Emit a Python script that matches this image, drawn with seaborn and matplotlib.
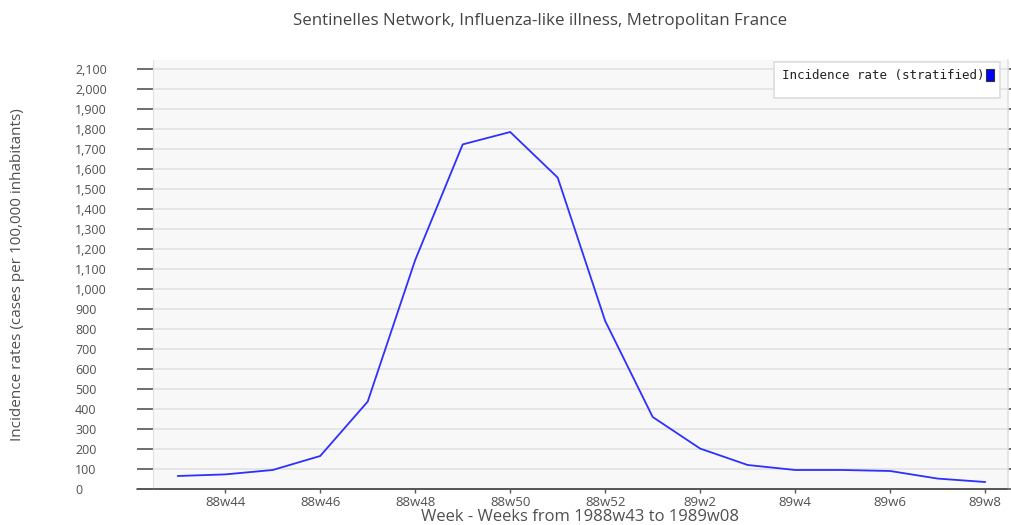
import numpy as np
import pandas as pd
import matplotlib
matplotlib.use('Agg')
import matplotlib.pyplot as plt
import seaborn as sns
from matplotlib.patches import Patch, Rectangle
from matplotlib.ticker import FuncFormatter

sns.set_style('whitegrid')
plt.rcParams['font.family'] = ['Open Sans', 'DejaVu Sans']

# weekly incidence
weeks = ['88w43', '88w44', '88w45', '88w46', '88w47', '88w48', '88w49', '88w50', '88w51',
         '88w52', '89w1', '89w2', '89w3', '89w4', '89w5', '89w6', '89w7', '89w8']
incidence = [65, 73, 95, 165, 437, 1145, 1723, 1785, 1557,
             840, 360, 202, 120, 95, 95, 90, 52, 35]
yticks = list(range(0, 2200, 100))

df = pd.DataFrame({'pos': np.arange(len(weeks)), 'week': weeks, 'rate': incidence})

txt = '#505050'
W, H = 1011, 525
fig = plt.figure(figsize=(W / 100, H / 100), dpi=100)
ax = fig.add_axes([153 / W, 1 - 489 / H, (1008 - 153) / W, (489 - 60) / H])
ax.set_facecolor('#f8f8f8')

sns.lineplot(data=df, x='pos', y='rate', color='#2f2fff', linewidth=1.3, ax=ax)

ax.set_xlim(-0.52, len(weeks) - 0.52)
ax.set_ylim(0, 2145)
ax.set_yticks(yticks)
ax.yaxis.set_major_formatter(FuncFormatter(lambda v, p: f'{int(v):,}'))
ax.set_xticks(df['pos'][1::2])
ax.set_xticklabels(df['week'][1::2])

ax.grid(axis='x', visible=False)
ax.grid(axis='y', color='#e2e2e2', linewidth=1.2)
for s in ['top', 'right']:
    ax.spines[s].set_visible(False)
ax.spines['left'].set_color('#e2e2e2')
ax.spines['bottom'].set_color('#555555')
ax.spines['bottom'].set_linewidth(1.2)

ax.tick_params(axis='y', direction='out', length=11.5, width=1.2, color='#555555',
               pad=44.6, labelsize=9, labelcolor=txt, left=True)
for lab in ax.get_yticklabels():
    lab.set_horizontalalignment('left')
ax.tick_params(axis='x', direction='out', length=3, width=1, color='#555555',
               pad=2, labelsize=9.5, labelcolor=txt, bottom=True)

# extend bottom axis line under the y ticks
ax.plot([-16 / 855, 1.0], [0, 0], transform=ax.transAxes, color='#555555',
        lw=1.2, clip_on=False)
ax.plot([1.0, 1.0], [0, 1], transform=ax.transAxes, color='#e2e2e2', lw=1.2, clip_on=False)
sec = ax.secondary_yaxis('right')
sec.set_yticks(yticks)
sec.tick_params(length=2.5, width=1.2, color='#555555', labelright=False)
sec.spines['right'].set_visible(False)

ax.set_xlabel('')
ax.set_ylabel('')
fig.text(540 / W, 1 - 21 / H, 'Sentinelles Network, Influenza-like illness, Metropolitan France',
         ha='center', va='center', fontsize=12.15, color='#444444')
fig.text(580 / W, 1 - 517 / H, 'Week - Weeks from 1988w43 to 1989w08',
         ha='center', va='center', fontsize=12, color=txt)
fig.text(18 / W, 1 - 275 / H, 'Incidence rates (cases per 100,000 inhabitants)',
         ha='center', va='center', rotation=90, fontsize=11, color=txt)

# legend frame
ax.add_patch(Rectangle((774 / W, 1 - 98 / H), 226 / W, 36 / H, transform=fig.transFigure,
                       facecolor='white', edgecolor='#dddddd', linewidth=1.2,
                       zorder=4, clip_on=False))
handle = Patch(facecolor='#0000ff', edgecolor='#333333', linewidth=0.8)
leg = ax.legend([handle], ['Incidence rate (stratified)'], loc='upper right',
                bbox_to_anchor=(994 / W, 1 - 69 / H), bbox_transform=fig.transFigure,
                markerfirst=False, frameon=False,
                prop={'family': 'DejaVu Sans Mono', 'size': 9.0},
                handlelength=0.65, handleheight=1.1, handletextpad=0.1,
                borderpad=0, borderaxespad=0)
leg.set_zorder(5)
for t in leg.get_texts():
    t.set_color('#222222')

fig.savefig('out.png', dpi=100)
